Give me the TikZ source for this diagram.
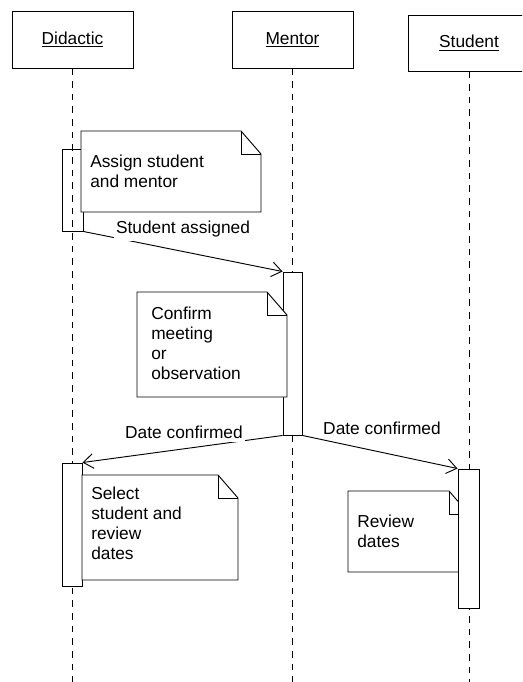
\documentclass[tikz,border=0pt]{standalone}
\usepackage{fontspec}
\setmainfont{Liberation Sans}
\usetikzlibrary{arrows.meta, positioning}

\begin{document}
\begin{tikzpicture}[
                    x=0.75pt, y=-0.75pt,
                    every node/.style={font=\fontsize{13}{15}\selectfont},
                    object/.style={draw, rectangle, fill=white, minimum width=90.75pt, minimum height=42.75pt, line width=0.7pt},
                    activation/.style={draw, rectangle, minimum width=15pt, inner sep=0pt, line width=0.7pt},
                    lifeline/.style={draw, dash pattern=on 5pt off 4.5pt, line width=0.7pt},
                    notepaper/.style={draw, fill=white, line width=0.7pt},
                    notetext/.style={align=left, anchor=north west, inner sep=0pt},
                    msg/.style={-{Straight Barb[length=7.5pt, width=11pt]}, draw, line width=0.7pt},
                    msglabel/.style={fill=white, inner xsep=1.5pt, inner ysep=3pt}
                    ]

  \clip (0,0) rectangle (522,682);

  % objects and lifelines
  \node[object] (didactic) at (72.5,39.5) {\underline{Didactic}};
  \node[object] (mentor) at (292.5,39.5) {\underline{Mentor}};
  \node[object, minimum height=42pt] (student) at (469,43) {\underline{Student}};

  \coordinate (bottom) at (0,682);
  \draw[lifeline] (didactic.south) -- (didactic.south |- bottom);
  \draw[lifeline] (mentor.south) -- (mentor.south |- bottom);
  \draw[lifeline] (student.south) -- (student.south |- bottom);

  % activations
  \node[activation, minimum width=15.75pt, minimum height=61.5pt] (didact1) at (72.5,190) {};
  \node[activation, fill=white, minimum width=14.25pt, minimum height=122.25pt] (mentoract) at (292.5,353.5) {};
  \node[activation, fill=white, minimum height=92.25pt] (didact2) at (72,524.5) {};

  % notes
  \foreach \nl/\nt/\nr/\nb in {81/131/261/212, 137/292/287/397, 82/475/238/580, 348/491/469/572} {
    \draw[notepaper] (\nl,\nt) -- (\nr-20,\nt) -- (\nr,\nt+23) -- (\nr,\nb) -- (\nl,\nb) -- cycle;
    \draw[line width=0.7pt] (\nr-20,\nt) -- (\nr-20,\nt+23) -- (\nr,\nt+23);
  }
  \node[notetext] (assign) at (90,155) {Assign student\\and mentor};
  \node[notetext] (confirm) at (151,306.5) {Confirm\\meeting\\or\\observation};
  \node[notetext] (select) at (91,487) {Select\\student and\\review\\dates};
  \node[notetext] (review) at (357,515) {Review\\dates};

  \node[activation, fill=white, minimum width=15.75pt, minimum height=104.25pt] (studentact) at (468.5,538.5) {};

  % messages
  \draw[msg] (didact1.south east) -- (mentoract.north west);
  \draw[msg] (mentoract.south west) -- (didact2.north east);
  \draw[msg] (mentoract.south east) -- (studentact.north west);

  \node[msglabel] (assigned) at (183,229) {Student assigned};
  \node[msglabel] (confirmedleft) at (184,432) {Date confirmed};
  \node[msglabel] (confirmedright) at (382,428) {Date confirmed};

\end{tikzpicture}
\end{document}
